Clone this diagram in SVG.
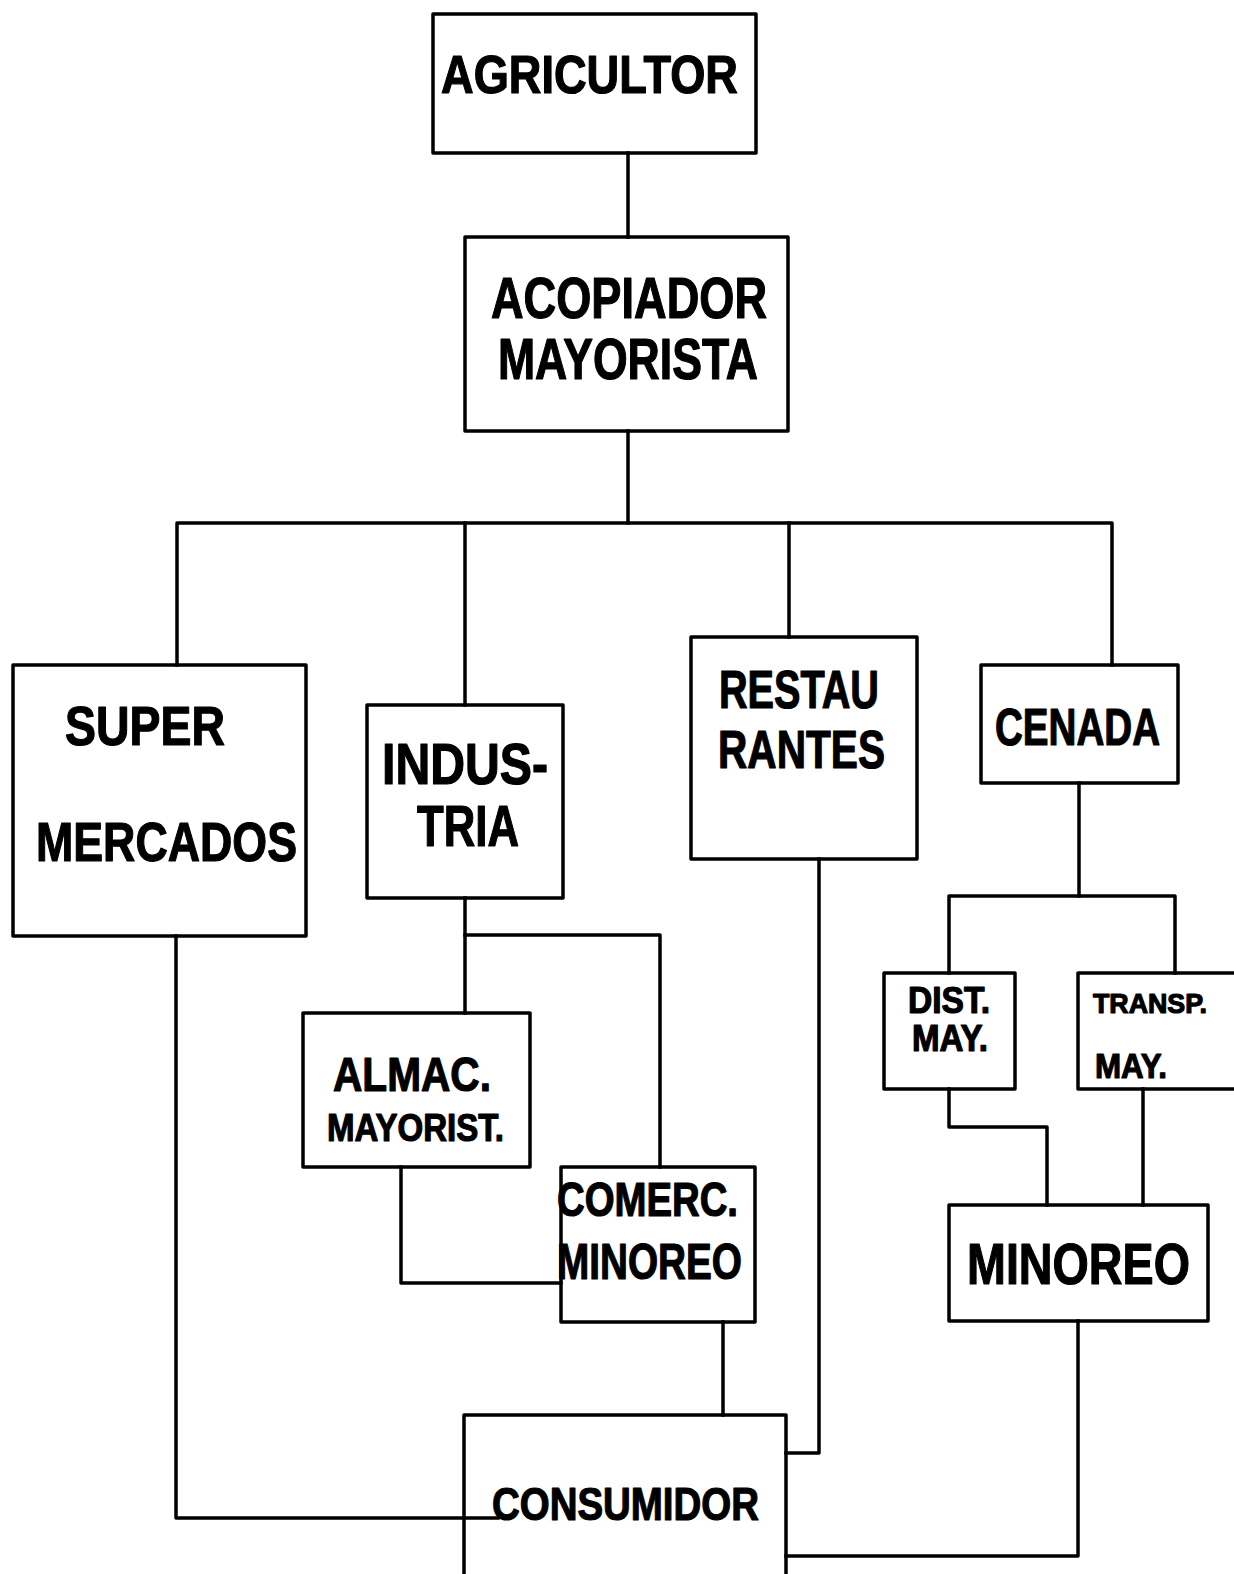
<svg xmlns="http://www.w3.org/2000/svg" width="1234" height="1574" viewBox="0 0 1234 1574">
<style>
.box{fill:#fff;stroke:#000;stroke-width:3.5;stroke-linejoin:round}
.ln{fill:none;stroke:#000;stroke-width:3.5;stroke-linejoin:round;stroke-linecap:square}
text{font-family:"Liberation Sans",Arial,sans-serif;font-weight:bold;fill:#000;stroke:#000;stroke-width:1.2;stroke-linejoin:round}
</style>
<rect width="1234" height="1574" fill="#fff"/>
<g id="agricultor">
<rect class="box" x="433" y="14" width="323" height="139"/>
<text x="441" y="93" font-size="53" textLength="297" lengthAdjust="spacingAndGlyphs">AGRICULTOR</text>
</g>
<g id="acopiador">
<rect class="box" x="465" y="237" width="323" height="194"/>
<text x="491" y="318" font-size="57" textLength="276" lengthAdjust="spacingAndGlyphs">ACOPIADOR</text>
<text x="498" y="379" font-size="57" textLength="260" lengthAdjust="spacingAndGlyphs">MAYORISTA</text>
</g>
<g id="supermercados">
<rect class="box" x="13" y="665" width="293" height="271"/>
<text x="65" y="745" font-size="56" textLength="160" lengthAdjust="spacingAndGlyphs">SUPER</text>
<text x="36" y="861" font-size="56" textLength="261" lengthAdjust="spacingAndGlyphs">MERCADOS</text>
</g>
<g id="industria">
<rect class="box" x="367" y="705" width="196" height="193"/>
<text x="382" y="784" font-size="57" textLength="166" lengthAdjust="spacingAndGlyphs">INDUS-</text>
<text x="417" y="846" font-size="57" textLength="102" lengthAdjust="spacingAndGlyphs">TRIA</text>
</g>
<g id="restaurantes">
<rect class="box" x="691" y="637" width="226" height="222"/>
<text x="719" y="708" font-size="54" textLength="160" lengthAdjust="spacingAndGlyphs">RESTAU</text>
<text x="718" y="768" font-size="54" textLength="167" lengthAdjust="spacingAndGlyphs">RANTES</text>
</g>
<g id="cenada">
<rect class="box" x="981" y="665" width="197" height="118"/>
<text x="995" y="745" font-size="52" textLength="165" lengthAdjust="spacingAndGlyphs">CENADA</text>
</g>
<g id="almac">
<rect class="box" x="303" y="1013" width="227" height="154"/>
<text x="333" y="1091" font-size="48" textLength="158" lengthAdjust="spacingAndGlyphs">ALMAC.</text>
<text x="327" y="1141" font-size="38" textLength="177" lengthAdjust="spacingAndGlyphs">MAYORIST.</text>
</g>
<g id="comerc">
<rect class="box" x="561" y="1167" width="194" height="155"/>
<text x="557" y="1216" font-size="48" textLength="181" lengthAdjust="spacingAndGlyphs">COMERC.</text>
<text x="557" y="1279" font-size="50" textLength="185" lengthAdjust="spacingAndGlyphs">MINOREO</text>
</g>
<g id="dist">
<rect class="box" x="884" y="973" width="131" height="116"/>
<text x="908" y="1013" font-size="36" textLength="82" lengthAdjust="spacingAndGlyphs">DIST.</text>
<text x="912" y="1051" font-size="36" textLength="76" lengthAdjust="spacingAndGlyphs">MAY.</text>
</g>
<g id="transp">
<rect class="box" x="1078" y="973" width="166" height="116"/>
<text x="1093" y="1013" font-size="28" textLength="114" lengthAdjust="spacingAndGlyphs">TRANSP.</text>
<text x="1095" y="1078" font-size="35" textLength="72" lengthAdjust="spacingAndGlyphs">MAY.</text>
</g>
<g id="minoreo">
<rect class="box" x="949" y="1205" width="259" height="116"/>
<text x="967" y="1284" font-size="57" textLength="223" lengthAdjust="spacingAndGlyphs">MINOREO</text>
</g>
<g id="consumidor">
<rect class="box" x="464" y="1415" width="322" height="180"/>
<text x="492" y="1520" font-size="46" textLength="267" lengthAdjust="spacingAndGlyphs">CONSUMIDOR</text>
</g>
<g id="connectors">
<path class="ln" d="M628 153V237"/>
<path class="ln" d="M628 431V523"/>
<path class="ln" d="M177 665V523H1112V665"/>
<path class="ln" d="M465 523V705"/>
<path class="ln" d="M789 523V637"/>
<path class="ln" d="M176 936V1518H498"/>
<path class="ln" d="M465 898V1013"/>
<path class="ln" d="M465 935H660V1167"/>
<path class="ln" d="M401 1167V1283H561"/>
<path class="ln" d="M723 1322V1415"/>
<path class="ln" d="M819 859V1453H786"/>
<path class="ln" d="M1079 783V896"/>
<path class="ln" d="M949 973V896H1175V973"/>
<path class="ln" d="M949 1089V1127H1047V1205"/>
<path class="ln" d="M1143 1089V1205"/>
<path class="ln" d="M1078 1321V1556H786"/>
</g>
</svg>
